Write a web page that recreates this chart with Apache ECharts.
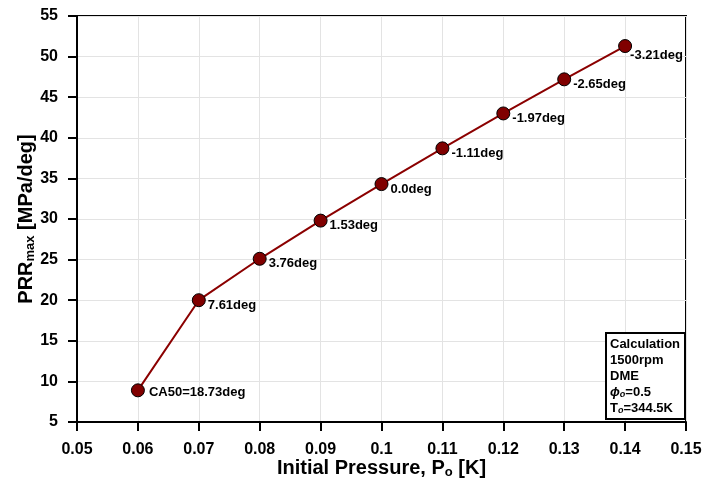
<!DOCTYPE html>
<html>
<head>
<meta charset="utf-8">
<script src="https://cdn.jsdelivr.net/npm/echarts@6/dist/echarts.min.js"></script>
<style>
  html, body { margin: 0; padding: 0; background: #fff; }
  #chart { width: 702px; height: 483px; }
</style>
</head>
<body>
<div id="chart"></div>
<script>
// Initial pressure values and peak pressure-rise rate
const pressures = [0.06, 0.07, 0.08, 0.09, 0.10, 0.11, 0.12, 0.13, 0.14];
const prrMax = [8.9, 20.0, 25.1, 29.8, 34.3, 38.7, 43.0, 47.2, 51.3];
// CA50 annotation for each point
const ca50Labels = ['CA50=18.73deg', '7.61deg', '3.76deg', '1.53deg', '0.0deg',
                    '-1.11deg', '-1.97deg', '-2.65deg', '-3.21deg'];
// Condition box lines
const infoLines = ['Calculation', '1500rpm', 'DME'];

const font = 'Arial, "Liberation Sans", sans-serif';

const chart = echarts.init(document.getElementById('chart'), null, { renderer: 'canvas' });

const seriesData = pressures.map((p, i) => {
  const last = i === pressures.length - 1;
  return {
    value: [p, prrMax[i]],
    label: {
      formatter: ca50Labels[i],
      offset: last ? [-4, 9] : (i === 0 ? [2, 2] : [0, 5])
    }
  };
});

const titleRich = {
  t: { fontFamily: font, fontWeight: 'bold', fontSize: 20, color: '#000' },
  s: { fontFamily: font, fontWeight: 'bold', fontSize: 13, color: '#000', padding: [8, 0, 0, 0] }
};

chart.setOption({
  animation: false,
  backgroundColor: '#fff',
  grid: {
    left: 77, right: 16, top: 16, bottom: 61,
    outerBoundsMode: 'none',
    containLabel: false,
    show: true, borderColor: '#000', borderWidth: 2, backgroundColor: 'transparent'
  },
  xAxis: {
    type: 'value',
    min: 0.05, max: 0.15, interval: 0.01,
    name: '{t|Initial Pressure, P}{s|o}{t| [K]}',
    nameLocation: 'middle', nameGap: 36, nameMoveOverlap: false,
    nameTextStyle: { rich: titleRich },
    axisLine: { show: true, onZero: false, lineStyle: { color: '#000', width: 2 } },
    axisTick: { show: true, length: 9, lineStyle: { color: '#000', width: 2 } },
    axisLabel: {
      margin: 20, fontFamily: font, fontWeight: 'bold', fontSize: 16, color: '#000',
      formatter: v => String(parseFloat(v.toFixed(2)))
    },
    splitLine: { show: true, lineStyle: { color: '#e3e3e3', width: 1 } }
  },
  yAxis: {
    type: 'value',
    min: 5, max: 55, interval: 5,
    name: '{t|PRR}{s|max}{t| [MPa/deg]}',
    nameLocation: 'middle', nameGap: 40, nameRotate: 90, nameMoveOverlap: false,
    nameTextStyle: { rich: titleRich },
    axisLine: { show: true, onZero: false, lineStyle: { color: '#000', width: 2 } },
    axisTick: { show: true, length: 9, lineStyle: { color: '#000', width: 2 } },
    axisLabel: { margin: 19, fontFamily: font, fontWeight: 'bold', fontSize: 16, color: '#000' },
    splitLine: { show: true, lineStyle: { color: '#e3e3e3', width: 1 } }
  },
  series: [{
    type: 'line',
    data: seriesData,
    lineStyle: { color: '#8b0000', width: 2 },
    symbol: 'circle',
    symbolSize: 13,
    itemStyle: { color: '#800000', borderColor: '#000', borderWidth: 1 },
    label: {
      show: true, position: 'right', distance: 2,
      fontFamily: font, fontWeight: 'bold', fontSize: 13, color: '#000'
    },
    z: 3
  }],
  graphic: [{
    type: 'group',
    left: 605, top: 332, z: 100,
    children: [
      { type: 'rect', z: 100, shape: { x: 0, y: 0, width: 79, height: 86 },
        style: { fill: '#fff', stroke: '#000', lineWidth: 2 } },
      { type: 'text', z: 101, x: 4, y: 3,
        style: {
          text: infoLines.map(s => '{b|' + s + '}').join('\n') +
                '\n{p|ϕ}{s|o}{b|=0.5}\n{b|T}{s|o}{b|=344.5K}',
          rich: {
            b: { fontFamily: font, fontWeight: 'bold', fontSize: 13, color: '#000', lineHeight: 16 },
            p: { fontFamily: font, fontWeight: 'bold', fontStyle: 'italic', fontSize: 13, color: '#000', lineHeight: 16 },
            s: { fontFamily: font, fontWeight: 'bold', fontStyle: 'italic', fontSize: 9, color: '#000', lineHeight: 16, padding: [5, 0, 0, 0] }
          }
        } }
    ]
  }]
});
</script>
</body>
</html>
